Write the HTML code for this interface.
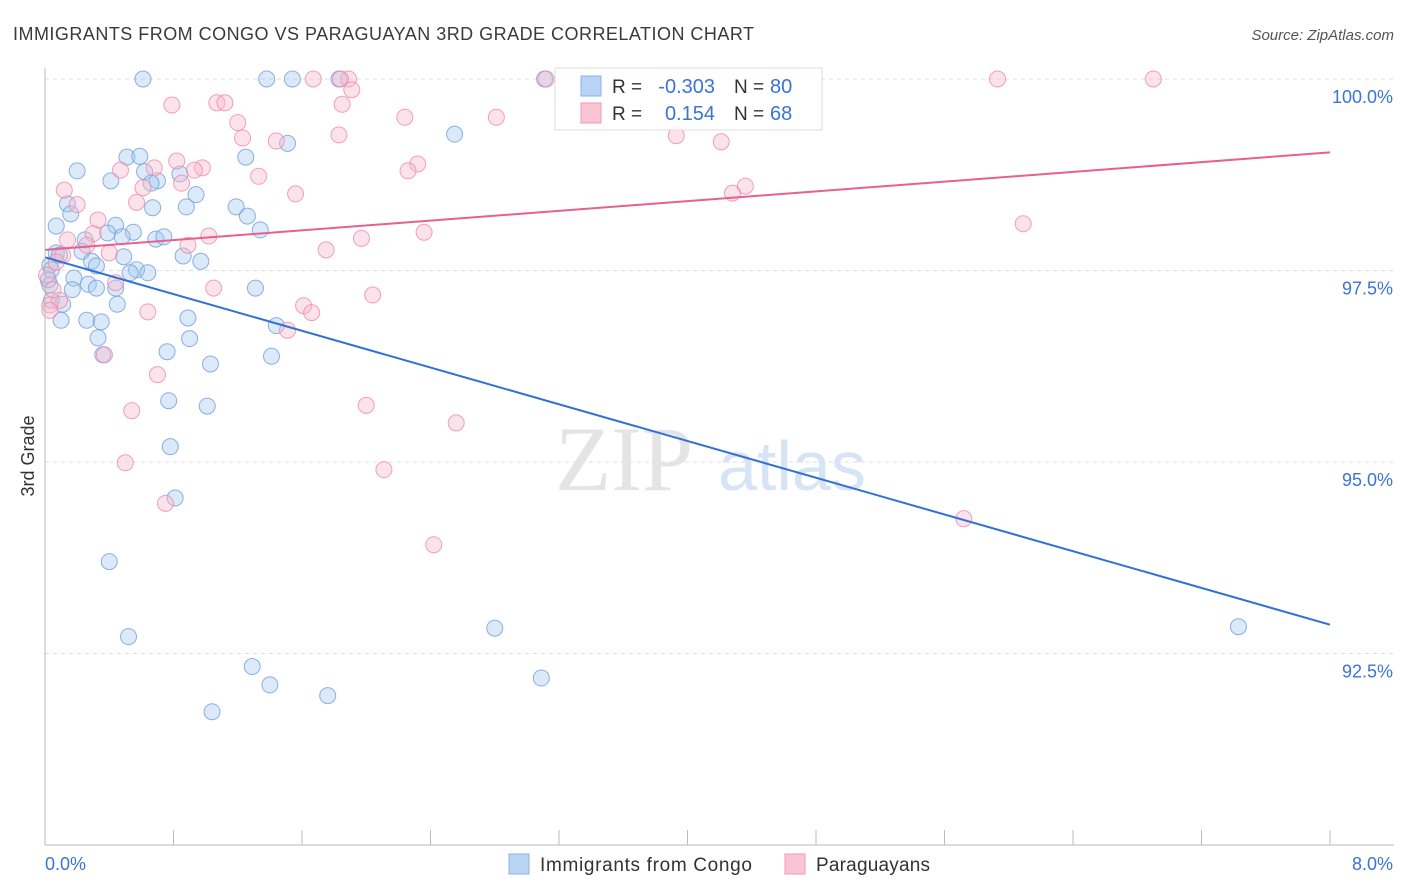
<!DOCTYPE html>
<html><head><meta charset="utf-8"><style>
body{margin:0;background:#fff;font-family:"Liberation Sans",sans-serif;}
svg{display:block}
</style></head><body>
<svg id="chart" width="1406" height="892" viewBox="0 0 1406 892" xmlns="http://www.w3.org/2000/svg">
<text x="13" y="40" font-size="18" fill="#3a3a3a" textLength="741" lengthAdjust="spacing" font-family="Liberation Sans, sans-serif">IMMIGRANTS FROM CONGO VS PARAGUAYAN 3RD GRADE CORRELATION CHART</text>
<text x="1394" y="40" font-size="15" fill="#555" text-anchor="end" font-style="italic">Source: ZipAtlas.com</text>
<g id="grid"></g>
<text x="555" y="490" font-size="92" fill="#e4e4e4" font-family="Liberation Serif, serif">ZIP</text>
<text x="718" y="490" font-size="70" fill="#d6e4f5">atlas</text>
<g id="points"></g>
<g id="lines"></g>
<g id="axes"></g>
<text x="34" y="456" font-size="18" fill="#333" text-anchor="middle" transform="rotate(-90 34 456)">3rd Grade</text>
<g>
<rect x="555" y="68" width="267" height="62" fill="#fff" fill-opacity="0.85" stroke="#ddd"/>
<rect x="581" y="76" width="20" height="20" fill="#b9d3f5" stroke="#8ab3e8"/>
<rect x="581" y="103" width="20" height="20" fill="#f9c4d4" stroke="#f09ab4"/>
<text x="612" y="93" font-size="19" fill="#333">R = </text><text x="715" y="93" font-size="20" fill="#3a74d6" text-anchor="end">-0.303</text>
<text x="734" y="93" font-size="19" fill="#333">N = </text><text x="770" y="93" font-size="20" fill="#3a74d6">80</text>
<text x="612" y="120" font-size="19" fill="#333">R = </text><text x="715" y="120" font-size="20" fill="#3a74d6" text-anchor="end">0.154</text>
<text x="734" y="120" font-size="19" fill="#333">N = </text><text x="770" y="120" font-size="20" fill="#3a74d6">68</text>
</g>
<g>
<rect x="509" y="854" width="20" height="20" fill="#b9d3f5" stroke="#8ab3e8"/>
<text x="540" y="871" font-size="19" fill="#333" textLength="212" lengthAdjust="spacing">Immigrants from Congo</text>
<rect x="785" y="854" width="20" height="20" fill="#f9c4d4" stroke="#f09ab4"/>
<text x="816" y="871" font-size="19" fill="#333" textLength="114" lengthAdjust="spacing">Paraguayans</text>
</g>
</svg>
<script>
const blueX=[0.61,1.38,1.54,1.83,3.11,2.55,1.51,1.25,0.51,0.59,0.20,0.62,0.41,0.84,0.70,0.66,0.94,0.88,0.67,1.19,0.14,0.16,1.26,0.07,0.44,1.34,0.39,0.55,0.48,0.69,0.74,0.25,0.07,0.23,0.49,0.86,0.97,0.29,0.32,0.57,0.64,0.53,0.18,0.27,0.44,1.31,0.32,0.03,0.04,0.45,0.11,1.44,0.89,0.26,0.35,0.10,0.90,0.33,0.36,0.76,1.41,1.03,0.77,1.01,0.78,0.81,0.40,0.52,2.80,7.43,1.29,3.09,1.40,1.76,1.04,0.03,0.04,0.09,0.02,0.17];
const blueY=[100,100,100,100,100,99.28,99.16,98.98,98.98,98.99,98.80,98.79,98.67,98.76,98.67,98.64,98.49,98.33,98.32,98.33,98.37,98.24,98.21,98.08,98.09,98.03,97.99,98.00,97.94,97.91,97.94,97.90,97.73,97.75,97.68,97.69,97.62,97.62,97.56,97.51,97.47,97.47,97.40,97.32,97.27,97.27,97.27,97.31,97.11,97.06,97.06,96.78,96.88,96.85,96.83,96.85,96.61,96.62,96.40,96.44,96.38,96.28,95.80,95.73,95.20,94.53,93.70,92.72,92.83,92.85,92.33,92.18,92.09,91.95,91.74,97.57,97.51,97.70,97.38,97.25];
const pinkX=[1.89,1.67,1.84,3.12,5.93,6.90,1.91,0.79,1.07,1.12,1.85,2.24,2.81,1.20,1.23,1.83,3.93,1.44,4.21,0.82,0.98,0.93,0.68,0.47,2.32,2.26,1.33,0.85,0.12,4.36,4.28,1.56,0.61,0.57,0.20,0.33,6.09,0.30,1.02,2.36,1.97,0.14,0.26,0.89,0.40,1.75,0.11,0.07,1.05,2.04,0.44,1.61,1.66,0.64,1.51,0.01,0.03,0.37,0.70,0.54,2.00,2.56,0.50,2.11,0.75,5.72,2.42,0.09,0.05,0.03];
const pinkY=[100,100,100,100,100,100,99.86,99.66,99.69,99.69,99.67,99.50,99.50,99.43,99.23,99.27,99.26,99.19,99.18,98.93,98.84,98.81,98.84,98.81,98.89,98.80,98.73,98.64,98.55,98.60,98.51,98.50,98.58,98.39,98.36,98.16,98.11,97.98,97.95,98.00,97.92,97.90,97.83,97.83,97.73,97.77,97.70,97.61,97.27,97.18,97.34,97.04,96.95,96.96,96.72,97.44,97.05,96.40,96.14,95.67,95.74,95.51,94.99,94.90,94.46,94.26,93.92,97.11,97.25,96.98];
const yTicks=[100,97.5,95,92.5];
const yTickLabels=["100.0%","97.5%","95.0%","92.5%"];
const xTicks=[0,0.8,1.6,2.4,3.2,4,4.8,5.6,6.4,7.2,8];
const xEndLabels=["0.0%","8.0%"];
const NS="http://www.w3.org/2000/svg";
const X0=45,X1=1330,Y100=79,PXPER=76.6;
function sx(v){return X0+(v/8)*(X1-X0);}
function sy(v){return Y100+(100-v)*PXPER;}
function mk(tag,attrs,parent){const e=document.createElementNS(NS,tag);for(const k in attrs)e.setAttribute(k,attrs[k]);parent.appendChild(e);return e;}
const grid=document.getElementById('grid'),axes=document.getElementById('axes'),pts=document.getElementById('points'),lines=document.getElementById('lines');
yTicks.forEach((t,i)=>{
 const l=mk('line',{x1:X0,x2:1394,y1:sy(t),y2:sy(t),stroke:'#ddd','stroke-dasharray':'4 4'},grid);
 
 
 const tx=mk('text',{x:1393,y:sy(t)+24,'font-size':18,fill:'#3a74d6','text-anchor':'end'},axes);
 tx.textContent=yTickLabels[i];
 
 
});
const ax=mk('line',{x1:X0,x2:X0,y1:68,y2:845,stroke:'#bbb'},axes);


const bx=mk('line',{x1:X0,x2:1394,y1:845,y2:845,stroke:'#bbb'},axes);


xTicks.forEach(t=>{
 const l=mk('line',{x1:sx(t),x2:sx(t),y1:830,y2:845,stroke:'#bbb'},axes);
 
 
});
const xl0=mk('text',{x:45,y:870,'font-size':18,fill:'#3a74d6'},axes);xl0.textContent=xEndLabels[0];


const xl1=mk('text',{x:1393,y:870,'font-size':18,fill:'#3a74d6','text-anchor':'end'},axes);xl1.textContent=xEndLabels[1];


function draw(xs,ys,fill,stroke,name){
 xs.forEach((x,i)=>{
  const c=mk('circle',{cx:sx(x),cy:sy(ys[i]),r:8,fill:fill,'fill-opacity':0.4,stroke:stroke,'stroke-opacity':0.8,'stroke-width':1},pts);
  
  
 });
}
draw(blueX,blueY,'#a8c8f0','#6f9fdc','congo-point');
draw(pinkX,pinkY,'#f7b8cc','#ee8aa9','paraguayan-point');
function fit(xs,ys){const n=xs.length;let mx=0,my=0;xs.forEach((x,i)=>{mx+=x;my+=ys[i];});mx/=n;my/=n;let sxy=0,sxx=0;xs.forEach((x,i)=>{sxy+=(x-mx)*(ys[i]-my);sxx+=(x-mx)*(x-mx);});const b=sxy/sxx;return [my-b*mx,b];}
function trend(xs,ys,color,name){const [a,b]=fit(xs,ys);
 const l=mk('line',{x1:sx(0),y1:sy(a),x2:sx(8),y2:sy(a+b*8),stroke:color,'stroke-width':2},lines);
 
 
}
trend(blueX,blueY,'#2f72d6','congo-trend-line');
trend(pinkX,pinkY,'#e8608e','paraguayan-trend-line');
</script>
</body></html>
